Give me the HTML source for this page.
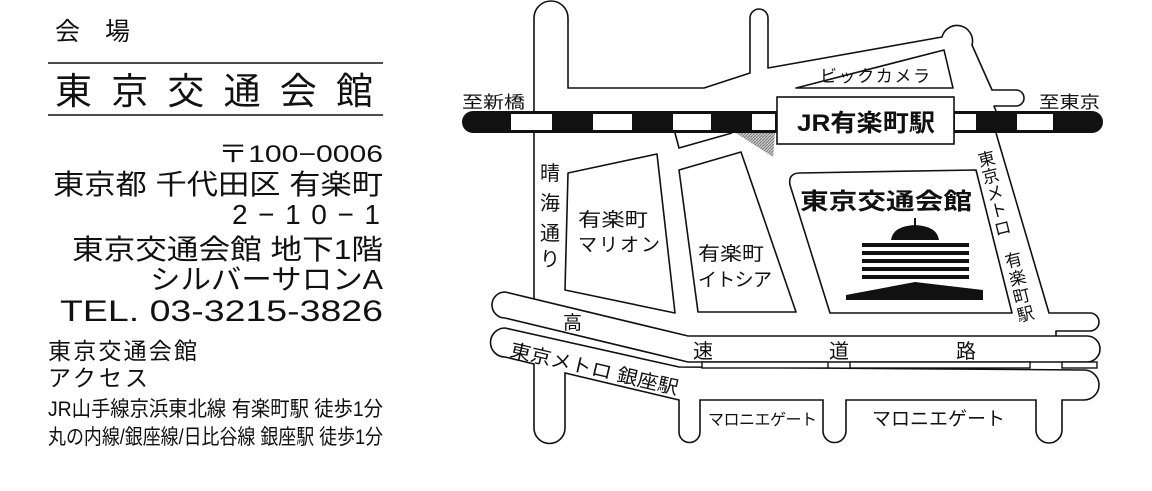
<!DOCTYPE html>
<html><head><meta charset="utf-8"><style>
html,body{margin:0;padding:0;background:#fff;}
svg{display:block;}
text{font-family:"Liberation Sans","Noto Sans CJK JP",sans-serif;fill:#111;}
</style></head><body>
<svg width="1152" height="491" viewBox="0 0 1152 491" xmlns="http://www.w3.org/2000/svg">
<defs>
<pattern id="h" width="3" height="3" patternUnits="userSpaceOnUse"><rect width="3" height="3" fill="#ccc"/><path d="M0,3 L3,0" stroke="#777" stroke-width="1"/></pattern>
</defs>
<!-- LEFT COLUMN -->
<text x="55" y="40" font-size="25" textLength="75">会 場</text>
<line x1="48" y1="63" x2="383" y2="63" stroke="#111" stroke-width="1.5"/>
<text x="55" y="104" font-size="37" textLength="318">東京交通会館</text>
<line x1="48" y1="115" x2="383" y2="115" stroke="#111" stroke-width="1.5"/>
<text x="218" y="162" font-size="24" textLength="165" lengthAdjust="spacingAndGlyphs">〒100−0006</text>
<text x="53" y="194" font-size="28" textLength="330" lengthAdjust="spacingAndGlyphs">東京都 千代田区 有楽町</text>
<text x="232" y="224" font-size="28" textLength="148">2−10−1</text>
<text x="72" y="259" font-size="28" textLength="311" lengthAdjust="spacingAndGlyphs">東京交通会館 地下1階</text>
<text x="150" y="289" font-size="28" textLength="233" lengthAdjust="spacingAndGlyphs">シルバーサロンA</text>
<text x="60" y="321" font-size="30" textLength="323" lengthAdjust="spacingAndGlyphs">TEL. 03-3215-3826</text>
<text x="48" y="359" font-size="23" textLength="149">東京交通会館</text>
<text x="48" y="386" font-size="23" textLength="100">アクセス</text>
<text x="48" y="416" font-size="21" textLength="335" lengthAdjust="spacingAndGlyphs">JR山手線京浜東北線 有楽町駅 徒歩1分</text>
<text x="48" y="444" font-size="21" textLength="335" lengthAdjust="spacingAndGlyphs">丸の内線/銀座線/日比谷線 銀座駅 徒歩1分</text>

<!-- MAP -->
<g fill="none" stroke="#111" stroke-width="1.6" stroke-linejoin="round">
<path d="M534,111 L534,18 A17,17 0 0 1 568,18 L568,88 L704,88 L750,73 L750,18 A9,9 0 0 1 768,18 L768,68 L942,37 A15,15 0 0 1 972,45 L992,90 L1016,90 A8,8 0 0 1 1016,106 L994,106 L996,111"/>
<path d="M796,88 L944,50 L953,88 Z"/>
<path d="M534,133 L534,300"/>
<path d="M675,133 L679,148 L732,133"/>
<path d="M568,173 L657,154 L675,313 L565,290 Z" fill="#fff"/>
<path d="M679,170 L741,152 L796,312 L698,312 Z" fill="#fff"/>
<path d="M800,173 L976,170 L1012,313 L830,313 L790,185 Q788,173 800,173 Z" fill="#fff"/>
<path d="M996,133 L1049,313 L1090,313 A9,9 0 0 1 1090,331 L1056,331 L1056,336"/>
</g>
<path d="M736,133 L775,133 L773,157 Z" fill="url(#h)"/>
<!-- ginza band -->
<path d="M505,328 L679,367 L1084,370 A15,15 0 0 1 1084,400 L1062,400 L1062,430 A13,13 0 0 1 1036,430 L1036,400 L846,400 L846,431 A11.5,11.5 0 0 1 823,431 L823,400 L700,400 L700,432 A10.5,10.5 0 0 1 679,432 L679,400 L565,373 L565,428 A15.5,15.5 0 0 1 534,428 L534,364 L505,357 A14.5,14.5 0 0 1 505,328 Z" fill="#fff" stroke="#111" stroke-width="1.6"/>
<!-- highway -->
<path d="M505,292 L688,336 L1087,336 A13,13 0 0 1 1087,362 L688,362 L505,318 A13,13 0 0 1 505,292 Z" fill="#fff" stroke="#111" stroke-width="1.6"/>
<g fill="#fff" stroke="#111" stroke-width="1.4">
<rect x="702" y="362" width="126" height="6"/>
<rect x="850" y="362" width="180" height="6"/>
<rect x="1062" y="362" width="35" height="6"/>
</g>
<!-- rail -->
<rect x="462" y="111" width="641" height="22" rx="11" fill="#111"/>
<g fill="#fff">
<rect x="511" y="114" width="41" height="16"/>
<rect x="593" y="114" width="39" height="16"/>
<rect x="673" y="114" width="38" height="16"/>
<rect x="752" y="114" width="23" height="16"/>
<rect x="955" y="114" width="21" height="16"/>
<rect x="1017" y="114" width="36" height="16"/>
</g>
<rect x="777" y="97" width="177" height="47" fill="#fff" stroke="#111" stroke-width="1.6"/>
<text x="797" y="131" font-size="24" font-weight="bold" textLength="138" lengthAdjust="spacingAndGlyphs">JR有楽町駅</text>
<text x="462" y="108" font-size="17" textLength="63" lengthAdjust="spacingAndGlyphs">至新橋</text>
<text x="1039" y="108" font-size="17" textLength="61" lengthAdjust="spacingAndGlyphs">至東京</text>
<text x="820" y="82" font-size="17" textLength="110">ビックカメラ</text>
<g font-size="20" text-anchor="middle">
<text x="550" y="180">晴</text><text x="550" y="210">海</text><text x="550" y="240">通</text><text x="550" y="266">り</text>
</g>
<text x="578" y="226" font-size="19" textLength="70" lengthAdjust="spacingAndGlyphs">有楽町</text>
<text x="578" y="251" font-size="19" textLength="82">マリオン</text>
<text x="698" y="260" font-size="19" textLength="66" lengthAdjust="spacingAndGlyphs">有楽町</text>
<text x="698" y="286" font-size="19" textLength="74">イトシア</text>
<text x="800" y="209" font-size="23" font-weight="bold" textLength="172" lengthAdjust="spacingAndGlyphs">東京交通会館</text>
<!-- building icon -->
<g fill="#111">
<rect x="914" y="218" width="2" height="12"/>
<path d="M891,240 Q893,226 915,225 Q937,226 939,240 Z"/>
<rect x="862" y="243" width="107" height="4"/>
<rect x="862" y="251" width="107" height="4"/>
<rect x="862" y="259" width="107" height="4"/>
<rect x="862" y="267" width="107" height="4"/>
<rect x="862" y="275" width="107" height="4"/>
<path d="M846,295 L915,282 L983,290 L983,300 L846,300 Z"/>
</g>
<g font-size="17" text-anchor="middle">
<text transform="translate(988,165) rotate(-14)">東</text>
<text transform="translate(992,182) rotate(-14)">京</text>
<text transform="translate(996,199) rotate(-14)">メ</text>
<text transform="translate(1000,216) rotate(-14)">ト</text>
<text transform="translate(1004,234) rotate(-14)">ロ</text>
<text transform="translate(1015,266) rotate(-14)">有</text>
<text transform="translate(1019,284) rotate(-14)">楽</text>
<text transform="translate(1023,302) rotate(-14)">町</text>
<text transform="translate(1027,320) rotate(-14)">駅</text>
</g>
<text x="563" y="329" font-size="19">高</text>
<text x="693" y="358" font-size="20">速</text>
<text x="829" y="358" font-size="20">道</text>
<text x="956" y="358" font-size="20">路</text>
<text transform="translate(509,356) rotate(13)" font-size="19" textLength="172" lengthAdjust="spacingAndGlyphs">東京メトロ 銀座駅</text>
<text x="708" y="425" font-size="16" textLength="109">マロニエゲート</text>
<text x="872" y="425" font-size="19" textLength="133">マロニエゲート</text>
</svg>
</body></html>
